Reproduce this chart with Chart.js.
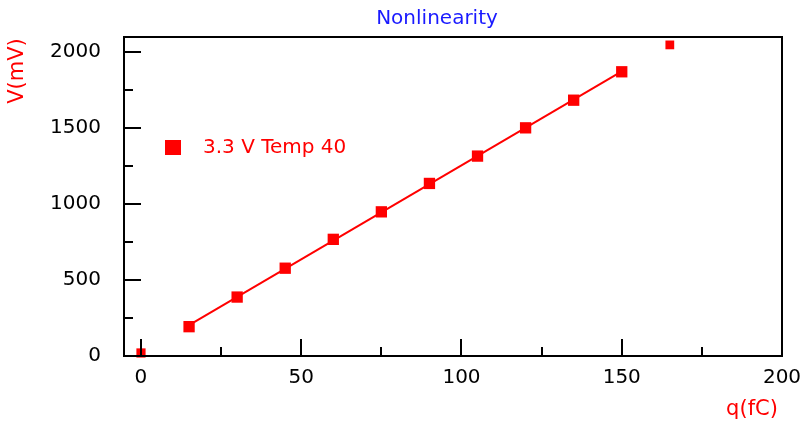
<!DOCTYPE html>
<html lang="en">
<head>
    <meta charset="UTF-8">
    <title>Nonlinearity</title>
    <script src="https://cdn.jsdelivr.net/npm/chart.js"></script>
    <style>
        html, body { margin: 0; padding: 0; background: #fff; }
        #wrap { width: 805px; height: 424px; }
    </style>
</head>
<body>
    <div id="wrap"><canvas id="nlChart"></canvas></div>
    <script>
        // Data
        const chargeFC = [0, 15, 30, 45, 60, 75, 90, 105, 120, 135, 150, 165];
        const voltageMV = [20, 193, 388, 578, 768, 949, 1136, 1316, 1502, 1684, 1871, 2048];
        const fitX = [15, 150];
        const fitY = [203, 1874];
        const seriesName = '3.3 V Temp 40';
        const xTickValues = [0, 50, 100, 150, 200];
        const yTickValues = [0, 500, 1000, 1500, 2000];
        const xMinorValues = [25, 75, 125, 175];
        const yMinorValues = [250, 750, 1250, 1750];

        const RED = '#ff0000';
        const FONT = 'DejaVu Sans';

        const points = chargeFC.map((x, i) => ({ x: x, y: voltageMV[i] }));
        const fitLine = fitX.map((x, i) => ({ x: x, y: fitY[i] }));

        // no extra room for overhanging tick labels
        function noPad(s) {
            s.paddingLeft = 0; s.paddingRight = 0;
            s.paddingTop = 0; s.paddingBottom = 0;
        }

        // frame, inward ticks, title, axis titles and legend
        const decorPlugin = {
            id: 'decor',
            afterDraw(chart) {
                const ctx = chart.ctx;
                const a = chart.chartArea;
                const xs = chart.scales.x, ys = chart.scales.y;
                ctx.save();
                ctx.strokeStyle = '#000';
                ctx.lineWidth = 2;
                ctx.strokeRect(a.left, a.top, a.right - a.left, a.bottom - a.top);

                ctx.beginPath();
                xTickValues.forEach(v => {
                    const px = Math.round(xs.getPixelForValue(v));
                    ctx.moveTo(px, a.bottom); ctx.lineTo(px, a.bottom - 17);
                });
                xMinorValues.forEach(v => {
                    const px = Math.round(xs.getPixelForValue(v));
                    ctx.moveTo(px, a.bottom); ctx.lineTo(px, a.bottom - 9);
                });
                yTickValues.forEach(v => {
                    const py = Math.round(ys.getPixelForValue(v));
                    ctx.moveTo(a.left, py); ctx.lineTo(a.left + 17, py);
                });
                yMinorValues.forEach(v => {
                    const py = Math.round(ys.getPixelForValue(v));
                    ctx.moveTo(a.left, py); ctx.lineTo(a.left + 9, py);
                });
                ctx.stroke();

                // title
                ctx.fillStyle = '#1a1aff';
                ctx.font = '20px "' + FONT + '"';
                ctx.textAlign = 'center';
                ctx.textBaseline = 'middle';
                ctx.fillText('Nonlinearity', 437, 19);

                // axis titles
                ctx.fillStyle = RED;
                ctx.font = '21px "' + FONT + '"';
                ctx.fillText('q(fC)', 752, 410);
                ctx.save();
                ctx.translate(18, 71);
                ctx.rotate(-Math.PI / 2);
                ctx.fillText('V(mV)', 0, 0);
                ctx.restore();

                // legend
                ctx.fillRect(165, 140, 16, 15);
                ctx.textAlign = 'left';
                ctx.font = '20px "' + FONT + '"';
                ctx.fillText(seriesName, 203, 148);
                ctx.restore();
            }
        };

        new Chart(document.getElementById('nlChart'), {
            type: 'scatter',
            data: {
                datasets: [
                    {
                        label: 'fit',
                        data: fitLine,
                        showLine: true,
                        borderColor: RED,
                        borderWidth: 2,
                        pointRadius: 0,
                        clip: false
                    },
                    {
                        label: seriesName,
                        data: points,
                        pointStyle: 'rect',
                        backgroundColor: RED,
                        borderColor: RED,
                        borderWidth: 0,
                        pointRadius: ctx => (ctx.dataIndex === 0 ? 6.5 : ctx.dataIndex === chargeFC.length - 1 ? 6.2 : 8),
                        clip: false
                    }
                ]
            },
            options: {
                responsive: true,
                maintainAspectRatio: false,
                animation: false,
                layout: { padding: { top: 37, right: 23, left: 0, bottom: 0 } },
                plugins: {
                    legend: { display: false },
                    tooltip: { enabled: false }
                },
                scales: {
                    x: {
                        type: 'linear',
                        min: -5.3,
                        max: 200,
                        grid: { display: false, drawTicks: false },
                        border: { display: false },
                        afterBuildTicks: s => { s.ticks = xTickValues.map(v => ({ value: v })); },
                        afterFit: s => { s.height = 68; noPad(s); },
                        ticks: {
                            color: '#000',
                            padding: 10,
                            maxRotation: 0,
                            font: { family: FONT, size: 20 },
                            callback: v => String(v)
                        }
                    },
                    y: {
                        type: 'linear',
                        min: 0,
                        max: 2100,
                        grid: { display: false, drawTicks: false },
                        border: { display: false },
                        afterBuildTicks: s => { s.ticks = yTickValues.map(v => ({ value: v })); },
                        afterFit: s => { s.width = 124; noPad(s); },
                        ticks: {
                            color: '#000',
                            padding: 23,
                            font: { family: FONT, size: 20 },
                            callback: v => String(v)
                        }
                    }
                }
            },
            plugins: [decorPlugin]
        });
    </script>
</body>
</html>
